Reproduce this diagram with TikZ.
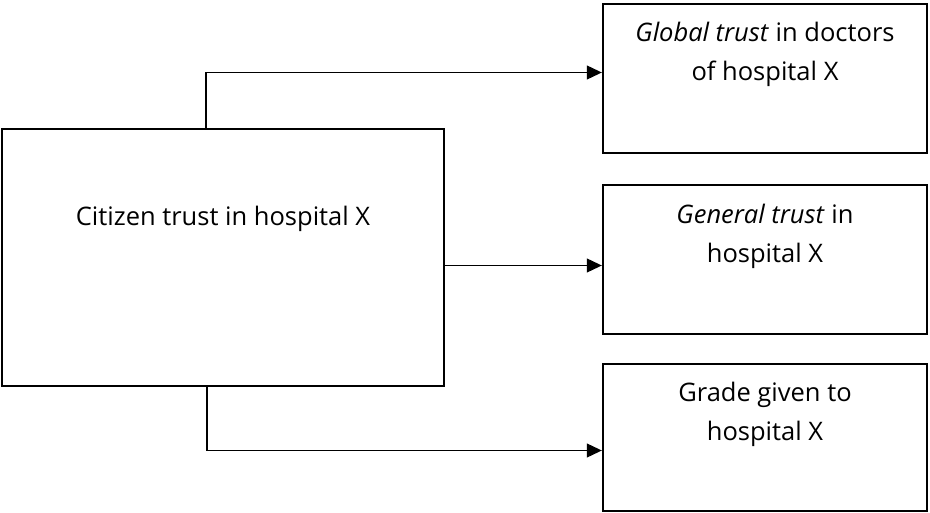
\documentclass[tikz,border=0pt]{standalone}
\usepackage{fontspec}
\setmainfont{Open Sans}
\usetikzlibrary{arrows.meta,positioning}

\tikzset{
  box/.style={draw, line width=2.4pt, inner sep=0pt},
  boxtext/.style={align=center, font=\fontsize{25.5}{39}\selectfont, anchor=base, inner sep=0pt},
  link/.style={line width=1.1pt, -{Triangle[length=15pt,width=14pt]}}
}

\begin{document}
\begin{tikzpicture}[x=1pt,y=-1pt]
\useasboundingbox (0,0) rectangle (930,513);

% Boxes
  \node[box, minimum width=442pt, minimum height=257pt] (cit) at (223,257.5) {};
  \node[box, minimum width=324pt, minimum height=149pt] (glob) at (765,78.5) {};
  \node[box, minimum width=324pt, minimum height=149pt] (gen) at (765,259.5) {};
  \node[box, minimum width=324pt, minimum height=147pt] (grade) at (765,437.5) {};

% Texts (base = last line)
  \node[boxtext] (cittxt) at ([yshift=-98pt]cit.north) {Citizen trust in hospital X};
  \node[boxtext] (globtxt) at ([yshift=-78pt]glob.north) {\textit{Global trust} in doctors\\of hospital X};
  \node[boxtext] (gentxt) at ([yshift=-79pt]gen.north) {\textit{General trust} in\\hospital X};
  \node[boxtext] (gradetxt) at ([yshift=-78pt]grade.north) {Grade given to\\hospital X};

% Arrows
  \draw[link] ([xshift=-17pt]cit.north) |- ([yshift=6pt]glob.west);
  \draw[link] ([yshift=-8pt]cit.east) -- ([yshift=-6pt]gen.west);
  \draw[link] ([xshift=-16pt]cit.south) |- ([yshift=-13pt]grade.west);
\end{tikzpicture}
\end{document}
